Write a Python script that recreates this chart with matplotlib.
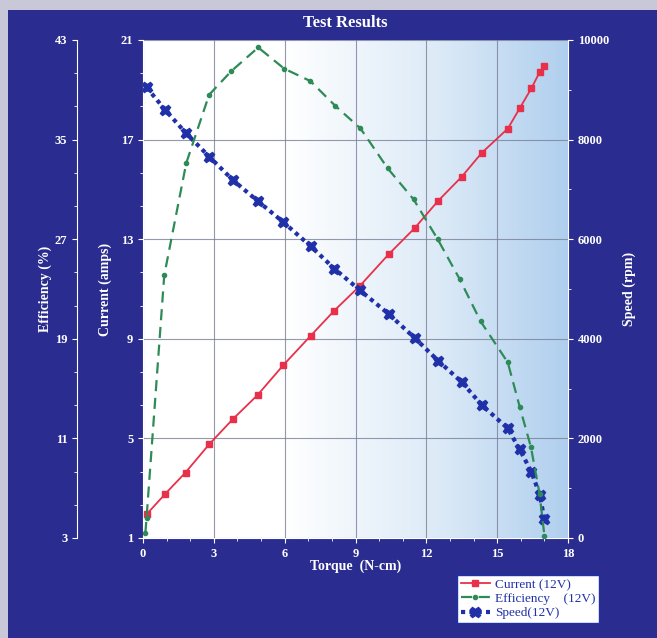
import numpy as np
import matplotlib
matplotlib.use("Agg")
import matplotlib.pyplot as plt
from matplotlib.ticker import MultipleLocator
from matplotlib.colors import LinearSegmentedColormap
from matplotlib.patches import Rectangle

# motor test results at 12V
torque = [0.15, 0.95, 1.8, 2.8, 3.8, 4.85, 5.95, 7.1, 8.1, 9.2,
          10.4, 11.5, 12.5, 13.5, 14.35, 15.45, 15.95, 16.45, 16.8, 17.0]
current = [1.95, 2.78, 3.63, 4.76, 5.77, 6.74, 7.95, 9.12, 10.13, 11.14,
           12.39, 13.44, 14.54, 15.51, 16.47, 17.44, 18.25, 19.06, 19.71, 19.95]
speed = [9050, 8590, 8140, 7660, 7190, 6770, 6340, 5860, 5410, 4970,
         4500, 4020, 3560, 3130, 2670, 2200, 1780, 1330, 870, 380]
eff_torque = [0.1, 0.15, 0.9, 1.83, 2.8, 3.74, 4.88, 5.98, 7.09, 8.15, 9.21,
              10.36, 11.46, 12.48, 13.41, 14.3, 15.45, 15.96, 16.43, 16.8, 17.0]
efficiency = [3.4, 4.6, 24.1, 33.1, 38.6, 40.5, 42.4, 40.7, 39.7, 37.7, 35.9,
              32.7, 30.2, 27.0, 23.8, 20.4, 17.1, 13.5, 10.3, 6.5, 3.2]

current_ticks = [1, 5, 9, 13, 17, 21]
eff_ticks = [3, 11, 19, 27, 35, 43]
speed_ticks = [0, 2000, 4000, 6000, 8000, 10000]
torque_ticks = [0, 3, 6, 9, 12, 15, 18]

BG = "#2a2d8f"
BLUE = "#2030a8"
plt.rcParams["font.family"] = "Liberation Serif"

fig = plt.figure(figsize=(6.57, 6.38), dpi=100)
fig.patch.set_facecolor("#c8c8d8")
fig.patches.append(Rectangle((8 / 657, 0), 1, 1 - 10 / 638, transform=fig.transFigure,
                             facecolor=BG, edgecolor="none", zorder=-10))

ax = fig.add_axes([143 / 657, 1 - 538 / 638, 425 / 657, 498 / 638])
ax.set_facecolor("white")

# white -> light blue shading of the plot area
cmap = LinearSegmentedColormap.from_list(
    "shade", [(0, "#ffffff"), (0.33, "#ffffff"), (0.7, "#dceaf7"), (1, "#b0cfee")])
grad = np.linspace(0, 1, 256).reshape(1, -1)
ax.imshow(grad, cmap=cmap, aspect="auto", extent=[0, 1, 0, 1],
          transform=ax.transAxes, zorder=0)

ax.set_xlim(0, 18)
ax.set_ylim(1, 21)
ax.set_xticks(torque_ticks)
ax.xaxis.set_minor_locator(MultipleLocator(1))
ax.set_yticks(current_ticks)
ax.set_yticks(np.arange(1, 21.01, 4 / 3), minor=True)
ax.grid(True, which="major", color="#7a7f9a", linewidth=0.8, alpha=0.8, zorder=1)

ln_cur, = ax.plot(torque, current, color="#e8304a", lw=1.3, marker="s", ms=5,
                  label="Current (12V)", zorder=4)

ax_sp = ax.twinx()
ax_sp.set_ylim(0, 10000)
ax_sp.set_yticks(speed_ticks)
ax_sp.yaxis.set_minor_locator(MultipleLocator(1000))
ln_sp, = ax_sp.plot(torque, speed, color=BLUE, lw=3, ls=(0, (1, 1)),
                    marker="X", ms=7.5, label="Speed(12V)", zorder=3)

ax_ef = ax.twinx()
ax_ef.set_ylim(3, 43)
ax_ef.set_yticks(eff_ticks)
ax_ef.set_yticks(np.arange(3, 43.01, 8 / 3), minor=True)
ax_ef.spines["left"].set_position(("axes", -0.155))
ax_ef.spines["left"].set_visible(True)
ax_ef.spines["right"].set_visible(False)
ax_ef.spines["top"].set_visible(False)
ax_ef.spines["bottom"].set_visible(False)
ax_ef.yaxis.set_ticks_position("left")
ax_ef.yaxis.set_label_position("left")
ln_ef, = ax_ef.plot(eff_torque, efficiency, color="#2e8b57", lw=1.6, ls=(0, (5, 3)),
                    marker="o", ms=3, label="Efficiency    (12V)", zorder=3)

for a in (ax, ax_sp, ax_ef):
    for s in a.spines.values():
        s.set_color("white")
    a.tick_params(which="both", colors="white", labelsize=9)
    a.tick_params(which="minor", length=2.5)
    for lab in a.get_yticklabels() + a.get_xticklabels():
        lab.set_fontweight("bold")
ax_sp.spines["left"].set_visible(False)
ax_sp.spines["top"].set_visible(False)
ax_sp.spines["bottom"].set_visible(False)
ax.spines["top"].set_visible(False)
ax.spines["right"].set_visible(False)

ax.set_xlabel("Torque  (N-cm)", color="white", fontsize=10, fontweight="bold", labelpad=0)
ax.set_ylabel("Current (amps)", color="white", fontsize=10, fontweight="bold", labelpad=6)
ax_sp.set_ylabel("Speed (rpm)", color="white", fontsize=10, fontweight="bold", labelpad=10)
ax_ef.set_ylabel("Efficiency (%)", color="white", fontsize=10, fontweight="bold", labelpad=2)

fig.text(345 / 657, 1 - 23 / 638, "Test Results", color="white", fontsize=12,
         fontweight="bold", ha="center", va="center")

leg = fig.legend([ln_cur, ln_ef, ln_sp], ["Current (12V)", "Efficiency    (12V)", "Speed(12V)"],
                 loc="upper left", bbox_to_anchor=(450 / 657, 1 - 568 / 638),
                 frameon=True, fancybox=False, fontsize=9.5, handlelength=2.2,
                 borderpad=0.3, labelspacing=0.15, handletextpad=0.4)
leg.get_frame().set_facecolor("white")
leg.get_frame().set_edgecolor(BLUE)
leg.get_frame().set_alpha(1)
for t in leg.get_texts():
    t.set_color(BLUE)

fig.savefig("out.png", dpi=100, facecolor=fig.get_facecolor())
